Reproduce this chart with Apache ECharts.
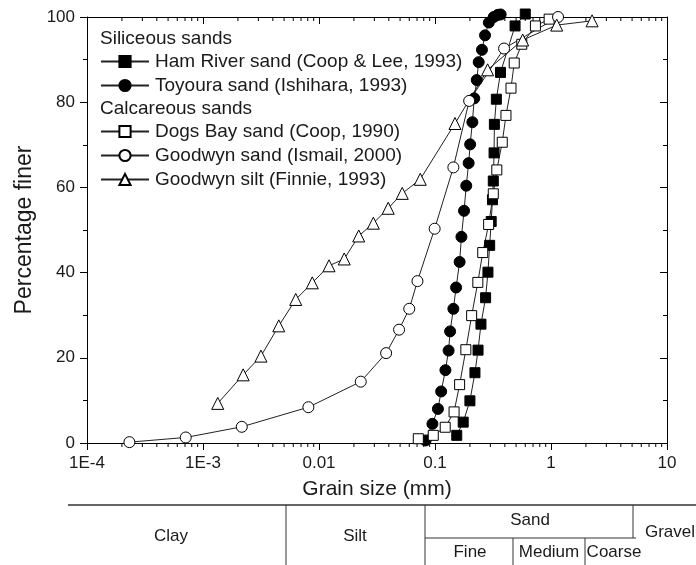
<!DOCTYPE html>
<html>
<head>
<meta charset="utf-8">
<script src="https://cdn.jsdelivr.net/npm/echarts@6/dist/echarts.min.js"></script>
<style>
html,body{margin:0;padding:0;background:#fff;}
#chart{width:696px;height:565px;}
</style>
</head>
<body>
<div id="chart"></div>
<script>
// ---- data (grain size in mm, percentage finer) ----
var seriesNames = [
  'Ham River sand (Coop & Lee, 1993)',
  'Toyoura sand (Ishihara, 1993)',
  'Dogs Bay sand (Coop, 1990)',
  'Goodwyn sand (Ismail, 2000)',
  'Goodwyn silt (Finnie, 1993)'
];
var groupHeaders = ['Siliceous sands', 'Calcareous sands'];

var hamX = [0.154, 0.175, 0.200, 0.221, 0.235, 0.249, 0.273, 0.286, 0.296, 0.305, 0.313, 0.318, 0.323, 0.325, 0.338, 0.367, 0.490, 0.600];
var hamY = [1.8, 4.9, 9.9, 16.5, 21.8, 27.9, 34.1, 40.1, 46.4, 52.0, 57.1, 61.5, 68.1, 74.8, 80.7, 87.0, 97.9, 100.7];

var toyX = [0.083, 0.095, 0.106, 0.113, 0.123, 0.131, 0.135, 0.144, 0.152, 0.163, 0.169, 0.178, 0.186, 0.195, 0.201, 0.210, 0.218, 0.229, 0.238, 0.254, 0.270, 0.291, 0.321, 0.348, 0.368];
var toyY = [0.6, 4.5, 8.0, 12.1, 17.1, 21.7, 26.2, 31.5, 36.5, 42.5, 48.4, 54.5, 60.4, 65.7, 70.1, 75.3, 80.9, 85.2, 89.4, 92.3, 95.7, 98.7, 100.0, 100.5, 100.6];

var dogX = [0.0718, 0.0966, 0.1225, 0.146, 0.163, 0.1845, 0.207, 0.234, 0.258, 0.290, 0.318, 0.341, 0.380, 0.409, 0.452, 0.482, 0.560, 0.734, 0.964];
var dogY = [1.0, 1.8, 3.7, 7.3, 13.7, 21.9, 29.9, 37.7, 44.7, 51.3, 58.5, 64.1, 70.6, 76.9, 83.3, 89.2, 93.6, 97.9, 99.5];

var gsandX = [0.000232, 0.00071, 0.00216, 0.0081, 0.0229, 0.0379, 0.049, 0.060, 0.0706, 0.0993, 0.144, 0.197, 0.394, 1.15];
var gsandY = [0.2, 1.3, 3.8, 8.4, 14.4, 21.1, 26.6, 31.5, 38.0, 50.3, 64.7, 80.3, 92.6, 100.0];

var gsiltX = [0.00134, 0.00222, 0.00316, 0.0045, 0.0063, 0.00875, 0.0122, 0.0165, 0.022, 0.0294, 0.0395, 0.0522, 0.0746, 0.1486, 0.284, 0.570, 1.12, 2.26];
var gsiltY = [9.3, 16.0, 20.4, 27.5, 33.7, 37.6, 41.6, 43.2, 48.6, 51.6, 55.1, 58.6, 61.9, 75.0, 87.6, 94.6, 98.1, 99.1];

var xTickLabels = ['1E-4', '1E-3', '0.01', '0.1', '1', '10'];

// size classification table (text)
var classTop = ['Clay', 'Silt', 'Sand', 'Gravel'];
var sandSub = ['Fine', 'Medium', 'Coarse'];

function zip(xs, ys) { return xs.map(function (x, i) { return [x, ys[i]]; }); }

// minor log ticks (2..9 of each decade)
var minorTickVals = [];
for (var d = -4; d < 1; d++) {
  for (var k = 2; k <= 9; k++) minorTickVals.push([k * Math.pow(10, d), 0]);
}

var FONT = 'Liberation Sans, Arial, sans-serif';
var INK = '#1a1a1a';

function lineSeries(name, data, symbol, filled, size) {
  return {
    name: name, type: 'line', data: data, clip: false,
    symbol: symbol, symbolSize: size,
    showAllSymbol: true,
    lineStyle: { color: '#222', width: 1 },
    itemStyle: { color: filled ? '#000' : '#fff', borderColor: '#000', borderWidth: 1 },
    emphasis: { disabled: true },
    z: 3
  };
}

function legendBox(names, top) {
  return {
    data: names,
    orient: 'vertical', left: 100, top: top, padding: 0,
    itemWidth: 48, itemHeight: 14, itemGap: 5,
    textStyle: { fontSize: 19, color: INK, fontFamily: FONT, padding: [0, 0, 0, 1] },
    selectedMode: false
  };
}

function tableText(txt, x, y) {
  return { type: 'text', x: x, y: y, style: { text: txt, font: '17px ' + FONT, fill: INK, textAlign: 'center', textVerticalAlign: 'middle' } };
}
function tableLine(x1, y1, x2, y2) {
  return { type: 'line', shape: { x1: x1, y1: y1, x2: x2, y2: y2 }, style: { stroke: '#333', lineWidth: 1 } };
}

var chart = echarts.init(document.getElementById('chart'), null, { renderer: 'canvas' });

var axisLineStyle = { show: true, onZero: false, lineStyle: { color: '#000', width: 1 } };

var option = {
  animation: false,
  backgroundColor: '#fff',
  textStyle: { fontFamily: FONT },
  grid: { left: 87, right: 29, top: 17, bottom: 122, containLabel: false },
  xAxis: [{
    type: 'log', logBase: 10, min: 0.0001, max: 10,
    position: 'bottom',
    name: 'Grain size (mm)', nameLocation: 'middle', nameGap: 36,
    nameTextStyle: { fontSize: 21, color: INK, fontFamily: FONT },
    axisLine: axisLineStyle,
    axisTick: { show: true, length: 7, lineStyle: { color: '#000' } },
    axisLabel: {
      fontSize: 17, color: INK, margin: 12, fontFamily: FONT,
      formatter: function (v) { return xTickLabels[Math.round(Math.log10(v)) + 4]; }
    },
    splitLine: { show: false }
  }, {
    type: 'log', logBase: 10, min: 0.0001, max: 10,
    position: 'top',
    axisLine: axisLineStyle,
    axisTick: { show: true, inside: true, length: 7, lineStyle: { color: '#000' } },
    axisLabel: { show: false },
    splitLine: { show: false }
  }],
  yAxis: [{
    type: 'value', min: 0, max: 100, interval: 20,
    position: 'left',
    name: 'Percentage finer', nameLocation: 'middle', nameGap: 50, nameRotate: 90,
    nameTextStyle: { fontSize: 23, color: INK, fontFamily: FONT },
    axisLine: axisLineStyle,
    axisTick: { show: true, length: 7, lineStyle: { color: '#000' } },
    minorTick: { show: true, splitNumber: 2, length: 4, lineStyle: { color: '#000' } },
    axisLabel: { fontSize: 17, color: INK, margin: 12, fontFamily: FONT },
    splitLine: { show: false }
  }, {
    type: 'value', min: 0, max: 100, interval: 20,
    position: 'right',
    axisLine: axisLineStyle,
    axisTick: { show: true, inside: true, length: 7, lineStyle: { color: '#000' } },
    minorTick: { show: true, splitNumber: 2, length: 4, lineStyle: { color: '#000' } },
    axisLabel: { show: false },
    splitLine: { show: false }
  }],
  legend: [legendBox(seriesNames.slice(0, 2), 52), legendBox(seriesNames.slice(2), 122)],
  graphic: [
    { type: 'text', x: 100, y: 39, style: { text: groupHeaders[0], font: '19px ' + FONT, fill: INK, textVerticalAlign: 'middle' } },
    { type: 'text', x: 100, y: 109, style: { text: groupHeaders[1], font: '19px ' + FONT, fill: INK, textVerticalAlign: 'middle' } },
    // classification table
    { type: 'line', shape: { x1: 68, y1: 505, x2: 696, y2: 505 }, style: { stroke: '#333', lineWidth: 1.3 } },
    tableLine(286, 505, 286, 565),
    tableLine(425, 505, 425, 565),
    tableLine(633, 505, 633, 538),
    tableLine(425, 538, 636, 538),
    tableLine(513, 538, 513, 565),
    tableLine(585, 538, 585, 565),
    tableText(classTop[0], 171, 536),
    tableText(classTop[1], 355, 536),
    tableText(classTop[2], 530, 520),
    tableText(classTop[3], 670, 532),
    tableText(sandSub[0], 470, 552),
    tableText(sandSub[1], 549, 552),
    tableText(sandSub[2], 614, 552)
  ],
  series: [
    lineSeries(seriesNames[0], zip(hamX, hamY), 'rect', true, 10),
    lineSeries(seriesNames[1], zip(toyX, toyY), 'circle', true, 11),
    lineSeries(seriesNames[2], zip(dogX, dogY), 'rect', false, 10),
    lineSeries(seriesNames[3], zip(gsandX, gsandY), 'circle', false, 11),
    lineSeries(seriesNames[4], zip(gsiltX, gsiltY), 'triangle', false, 12),
    {
      type: 'custom', name: 'minorTicks', data: minorTickVals, clip: false, silent: true, z: 1,
      renderItem: function (params, api) {
        var v = api.value(0);
        var pb = api.coord([v, 0]);
        var pt = api.coord([v, 100]);
        return {
          type: 'group',
          children: [
            { type: 'line', shape: { x1: pb[0], y1: pb[1], x2: pb[0], y2: pb[1] + 4 }, style: { stroke: '#000', lineWidth: 1 } },
            { type: 'line', shape: { x1: pt[0], y1: pt[1], x2: pt[0], y2: pt[1] + 4 }, style: { stroke: '#000', lineWidth: 1 } }
          ]
        };
      }
    }
  ]
};
chart.setOption(option);
</script>
</body>
</html>
